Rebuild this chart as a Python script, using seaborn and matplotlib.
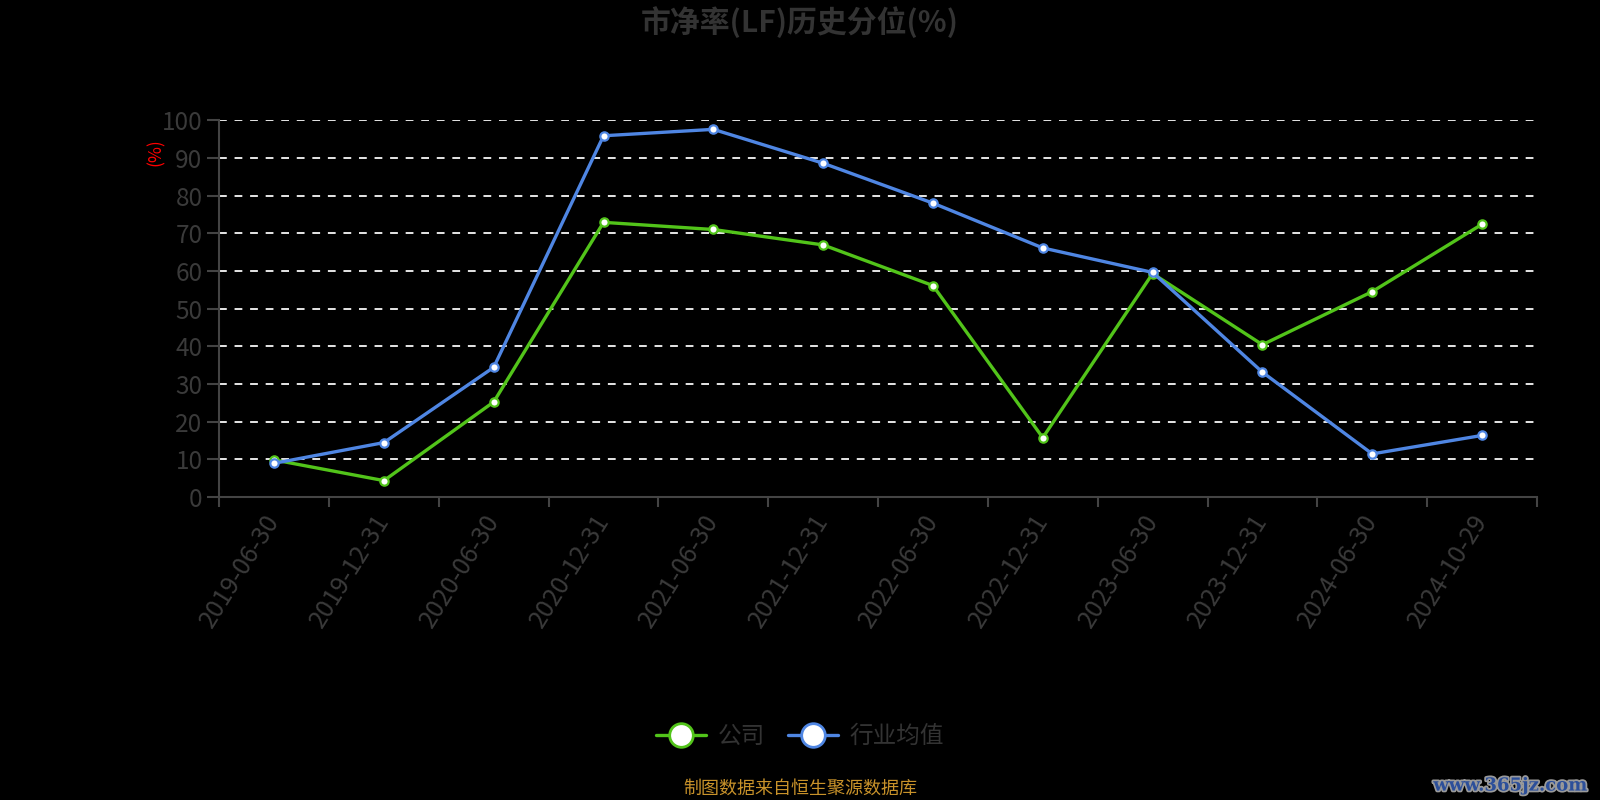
import matplotlib
matplotlib.use("Agg")
import matplotlib.pyplot as plt
import matplotlib.patheffects as pe
from matplotlib.lines import Line2D
import seaborn as sns
import pandas as pd
import numpy as np

dates = ["2019-06-30", "2019-12-31", "2020-06-30", "2020-12-31", "2021-06-30", "2021-12-31",
         "2022-06-30", "2022-12-31", "2023-06-30", "2023-12-31", "2024-06-30", "2024-10-29"]
company = [9.8, 4.3, 25.2, 72.9, 71.0, 66.9, 56.1, 15.7, 59.3, 40.4, 54.5, 72.4]
industry = [8.9, 14.4, 34.4, 95.9, 97.6, 88.6, 78.0, 66.1, 59.6, 33.1, 11.4, 16.3]
series_names = ["公司", "行业均值"]
colors = ["#52c41a", "#4f86e3"]
yticks = [0, 10, 20, 30, 40, 50, 60, 70, 80, 90, 100]

sns.set_theme(style="dark")
plt.rcParams['font.family'] = ['Noto Sans CJK SC', 'DejaVu Sans']
plt.rcParams['axes.unicode_minus'] = False

df = pd.DataFrame({
    "date": dates * 2,
    "value": company + industry,
    "series": [series_names[0]] * len(dates) + [series_names[1]] * len(dates),
})
df["pos"] = [i for i in range(len(dates))] * 2

fig = plt.figure(figsize=(16, 8), dpi=100, facecolor="black")
ax = fig.add_axes([0.137, 0.379, 0.8236, 0.4706])
ax.set_facecolor("black")

sns.lineplot(data=df, x="pos", y="value", hue="series", palette=colors,
             hue_order=series_names, linewidth=2.4, marker="o", markersize=6,
             markerfacecolor="white", markeredgewidth=1.6, ax=ax, legend=False,
             zorder=3)
for line, c in zip(ax.get_lines(), colors):
    line.set_markeredgecolor(c)

ax.set_xlim(-0.5, len(dates) - 0.5)
ax.set_ylim(0, 100)
ax.set_yticks(yticks)
ax.set_yticklabels([str(v) for v in yticks], fontsize=17.5, color="#3a3a3a")
ax.set_xticks(range(len(dates)))
ax.set_xticklabels(dates, rotation=58, ha="right", va="center", rotation_mode="anchor",
                   fontsize=18, color="#3a3a3a")
ax.set_xticks(np.arange(-0.5, len(dates), 1.0), minor=True)
ax.tick_params(axis="x", which="major", length=0, pad=14)
ax.tick_params(axis="x", which="minor", length=7, width=1.5, color="#444444", bottom=True)
ax.tick_params(axis="y", which="major", length=9, width=1.5, color="#444444", left=True, pad=3)
ax.set_xlabel("")
ax.set_ylabel("")

for v in yticks[1:]:
    ax.axhline(v, color="#e6e6e6", linewidth=1.4, linestyle=(0, (4, 4)), zorder=1)
ax.grid(False)

for s in ["top", "right"]:
    ax.spines[s].set_visible(False)
for s in ["left", "bottom"]:
    ax.spines[s].set_visible(True)
    ax.spines[s].set_color("#444444")
    ax.spines[s].set_linewidth(1.5)

fig.text(0.0975, 0.81, "(%)", color="red", fontsize=12.5, rotation=90, ha="center", va="center")

fig.text(0.5, 0.972, "市净率(LF)历史分位(%)", color="#333333", fontsize=21.5,
         fontweight="bold", ha="center", va="center")

handles = [Line2D([0], [0], color=c, linewidth=2.4, marker="o", markersize=17,
                  markerfacecolor="white", markeredgecolor=c, markeredgewidth=2)
           for c in colors]
leg = fig.legend(handles, series_names, loc="center", bbox_to_anchor=(0.5, 0.079),
                 ncol=2, frameon=False, fontsize=17, handlelength=2.1,
                 columnspacing=1.0, handletextpad=0.5)
for t in leg.get_texts():
    t.set_color("#333333")

fig.text(0.5, 0.014, "制图数据来自恒生聚源数据库", color="#c8922a", fontsize=13,
         ha="center", va="center")

fig.text(0.992, 0.018, "www.365jz.com", color="#2c4f9a", fontsize=13, fontweight="bold",
         family=["DejaVu Serif"], ha="right", va="center",
         path_effects=[pe.withStroke(linewidth=2.5, foreground="#9a9a9a")])

fig.savefig("out.png", dpi=100, facecolor="black")
